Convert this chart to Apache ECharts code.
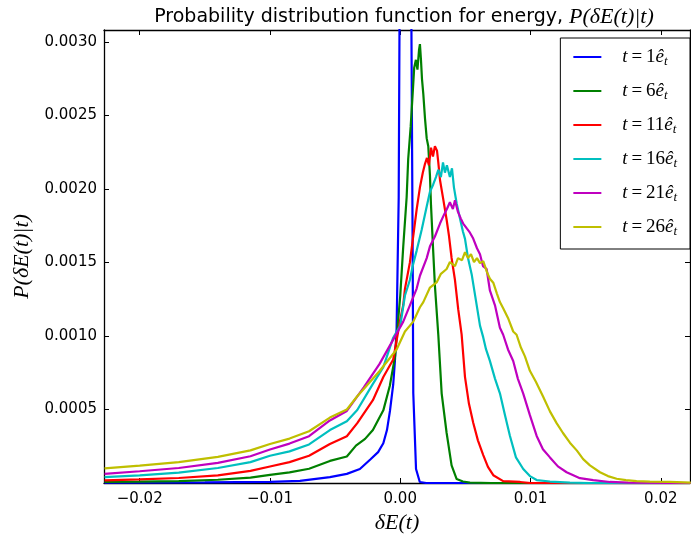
<!DOCTYPE html>
<html>
<head>
<meta charset="utf-8">
<script src="https://cdn.jsdelivr.net/npm/echarts@6/dist/echarts.min.js"></script>
<style>html,body{margin:0;padding:0;background:#fff}#c{width:691px;height:539px}</style>
</head>
<body>
<div id="c"></div>
<script>
const seriesNames = ['t=1', 't=6', 't=11', 't=16', 't=21', 't=26'];
const xTicks = [-0.02, -0.01, 0.00, 0.01, 0.02];
const yTicks = [0.0005, 0.0010, 0.0015, 0.0020, 0.0025, 0.0030];

const t1 = [[-0.0227,0.000002],[-0.0150,0.000004],[-0.0100,0.000008],[-0.0077,0.000014],[-0.0054,0.000040],[-0.0041,0.000062],[-0.0031,0.000095],[-0.0023,0.000160],[-0.0017,0.000210],[-0.0013,0.000270],[-0.00102,0.000360],[-0.00079,0.000490],[-0.00054,0.000670],[-0.00041,0.000830],[-0.00028,0.00105],[-0.00012,0.00194],[0.0,0.0042],[0.0002,0.0062],[0.0004,0.0072],[0.0006,0.0065],[0.0008,0.0040],[0.00095,0.00161],[0.0010,0.00061],[0.00121,0.000095],[0.0015,0.000007],[0.0020,0.0],[0.0223,0.0]];

const t6 = [[-0.0227,0.000007],[-0.0200,0.000009],[-0.0170,0.000013],[-0.0140,0.000022],[-0.0115,0.000037],[-0.0100,0.000055],[-0.0085,0.000072],[-0.0070,0.000097],[-0.0054,0.000150],[-0.0041,0.000180],[-0.0034,0.000254],[-0.0027,0.000300],[-0.0021,0.000361],[-0.0013,0.000494],[-0.0008,0.000661],[-0.0004,0.000861],[0.0,0.001275],[0.00023,0.001609],[0.00049,0.001943],[0.00061,0.002203],[0.00080,0.002423],[0.00095,0.002644],[0.00107,0.002824],[0.00120,0.002877],[0.00132,0.002811],[0.00144,0.002944],[0.00151,0.002984],[0.00159,0.002877],[0.00167,0.002744],[0.00177,0.002644],[0.00190,0.002477],[0.00203,0.002343],[0.00215,0.002290],[0.00228,0.002090],[0.00236,0.001889],[0.00251,0.001609],[0.00266,0.001342],[0.00292,0.001008],[0.00318,0.000608],[0.00356,0.000340],[0.00394,0.000120],[0.00433,0.000027],[0.00481,0.000010],[0.00535,0.000003],[0.0070,0.0],[0.0223,0.0]];

const t11 = [[-0.0227,0.000018],[-0.0200,0.000024],[-0.0170,0.000034],[-0.0140,0.000052],[-0.0115,0.000082],[-0.0100,0.000112],[-0.0085,0.000142],[-0.0070,0.000185],[-0.0054,0.000265],[-0.0041,0.000318],[-0.0033,0.000407],[-0.0021,0.000563],[-0.0013,0.000721],[-0.00054,0.00084],[0.0,0.00111],[0.00023,0.00121],[0.00036,0.00132],[0.00074,0.00150],[0.0010,0.00168],[0.00126,0.00186],[0.00151,0.00201],[0.00173,0.00211],[0.0019,0.00217],[0.00205,0.00221],[0.0022,0.00216],[0.00236,0.00228],[0.00251,0.00222],[0.00266,0.00229],[0.00282,0.00226],[0.00292,0.00218],[0.00305,0.00206],[0.00328,0.00194],[0.00356,0.00179],[0.00374,0.00168],[0.00394,0.00153],[0.0042,0.00138],[0.00445,0.00118],[0.00471,0.00101],[0.00497,0.00072],[0.00527,0.00054],[0.0056,0.00041],[0.00596,0.00029],[0.00637,0.00019],[0.00673,0.00011],[0.00714,0.000053],[0.0079,0.000013],[0.0092,0.000007],[0.0100,0.0],[0.0223,0.0]];

const t16 = [[-0.0227,0.000040],[-0.0200,0.000052],[-0.0170,0.000070],[-0.0140,0.000102],[-0.0115,0.000142],[-0.0100,0.000185],[-0.0085,0.000215],[-0.0070,0.000262],[-0.0054,0.000360],[-0.0041,0.00042],[-0.0033,0.000496],[-0.0021,0.000674],[-0.0013,0.000788],[-0.00054,0.000988],[0.0,0.00107],[0.00036,0.001275],[0.00074,0.00138],[0.00097,0.00148],[0.00126,0.00158],[0.00164,0.00172],[0.00203,0.00188],[0.00228,0.00198],[0.00253,0.00203],[0.00274,0.00208],[0.00292,0.00213],[0.00312,0.00208],[0.00328,0.00218],[0.00343,0.00211],[0.00358,0.00216],[0.00381,0.00208],[0.00397,0.00214],[0.00412,0.00201],[0.00433,0.0019],[0.00458,0.0018],[0.00481,0.00171],[0.00497,0.00166],[0.0052,0.00153],[0.00548,0.00142],[0.00581,0.00124],[0.00612,0.00107],[0.00637,0.00099],[0.00658,0.00091],[0.00688,0.00083],[0.00727,0.00071],[0.00765,0.00061],[0.00804,0.00046],[0.00842,0.00032],[0.00888,0.000174],[0.00944,0.000095],[0.00995,0.000047],[0.01047,0.00002],[0.01149,0.00001],[0.01302,0.000003],[0.0145,0.0],[0.0223,0.0]];

const t21 = [[-0.0227,0.000062],[-0.0200,0.000080],[-0.0170,0.000102],[-0.0140,0.000137],[-0.0115,0.000182],[-0.0100,0.000228],[-0.0085,0.000268],[-0.0070,0.000318],[-0.0054,0.000425],[-0.0041,0.000490],[-0.0028,0.00065],[-0.0016,0.000808],[-0.00054,0.000975],[0.00023,0.001097],[0.00074,0.001208],[0.00126,0.001322],[0.00151,0.001409],[0.00203,0.001529],[0.00228,0.001609],[0.00266,0.001676],[0.00305,0.001764],[0.00335,0.001823],[0.00358,0.001863],[0.00381,0.001909],[0.00404,0.001863],[0.0042,0.001923],[0.00443,0.001843],[0.00466,0.001796],[0.00483,0.001764],[0.00512,0.001729],[0.00535,0.001702],[0.0056,0.001662],[0.00589,0.001596],[0.00612,0.001556],[0.00635,0.001475],[0.00663,0.001455],[0.00688,0.001309],[0.00727,0.001208],[0.00765,0.001055],[0.0079,0.001008],[0.00827,0.000908],[0.00867,0.00083],[0.00903,0.000708],[0.00944,0.000608],[0.00995,0.000461],[0.01047,0.00032],[0.01095,0.00023],[0.01149,0.000174],[0.0121,0.000113],[0.01277,0.000073],[0.01379,0.000033],[0.01481,0.00002],[0.01609,0.000007],[0.0175,0.000002],[0.0223,0.0]];

const t26 = [[-0.0227,0.000100],[-0.0200,0.000118],[-0.0170,0.000142],[-0.0140,0.000178],[-0.0115,0.000222],[-0.0100,0.000265],[-0.0085,0.000302],[-0.0070,0.000352],[-0.0054,0.000445],[-0.0041,0.000500],[-0.0033,0.00059],[-0.0026,0.00066],[-0.0016,0.00076],[-0.00028,0.000908],[0.00036,0.00103],[0.0010,0.001097],[0.00151,0.001195],[0.00177,0.00123],[0.00228,0.001329],[0.00279,0.001364],[0.00312,0.001422],[0.00356,0.001455],[0.00381,0.001502],[0.0042,0.001475],[0.00443,0.001529],[0.00474,0.001515],[0.00497,0.001569],[0.0052,0.001529],[0.00543,0.001556],[0.00566,0.001502],[0.00589,0.001529],[0.00612,0.001495],[0.00637,0.001509],[0.00665,0.001435],[0.00688,0.001389],[0.00714,0.001362],[0.00742,0.001288],[0.00765,0.00123],[0.0079,0.001188],[0.00827,0.001122],[0.00867,0.00103],[0.00893,0.001008],[0.00926,0.000921],[0.00957,0.000861],[0.00995,0.000763],[0.01041,0.000688],[0.01097,0.000587],[0.01149,0.000487],[0.012,0.000407],[0.01249,0.00034],[0.01302,0.000274],[0.01356,0.00022],[0.01404,0.000162],[0.01456,0.00012],[0.01533,0.000073],[0.01594,0.000047],[0.01661,0.000029],[0.01732,0.00002],[0.01814,0.000013],[0.01916,0.00001],[0.0207,0.000007],[0.0223,0.000003]];

const allData = [t1, t6, t11, t16, t21, t26];
const colors = ['#0000ff', '#008000', '#ff0000', '#00bfbf', '#bf00bf', '#bfbf00'];

const X_MIN = -0.02274, X_MAX = 0.02224, Y_MIN = 0, Y_MAX = 0.00308;

const chart = echarts.init(document.getElementById('c'), null, {renderer: 'canvas'});
const fmtX = v => (v < 0 ? '\u2212' : '') + Math.abs(v).toFixed(2);
const fmtY = v => v.toFixed(4);
const tickStyle = {show: true, inside: true, length: 5, lineStyle: {color: '#000', width: 1}};
const lineStyleAxis = {show: true, onZero: false, lineStyle: {color: '#000', width: 1.3}};
const mathRich = {
  i: {fontFamily: 'Liberation Serif', fontStyle: 'italic', fontSize: 19, color: '#000'},
  n: {fontFamily: 'Liberation Serif', fontSize: 19, color: '#000'},
  s: {fontFamily: 'Liberation Serif', fontStyle: 'italic', fontSize: 13, color: '#000', verticalAlign: 'bottom', padding: [9, 0, 0, 0]}
};

chart.setOption({
  animation: false,
  backgroundColor: '#fff',
  title: {
    text: '{a|Probability distribution function for energy, }{m|P(δE(t)|t)}',
    left: 399, top: 1, textAlign: 'center',
    textStyle: {fontWeight: 'normal', rich: {
      a: {fontFamily: 'DejaVu Sans', fontSize: 19, fontWeight: 'normal', color: '#000'},
      m: {fontFamily: 'Liberation Serif', fontStyle: 'italic', fontWeight: 'normal', fontSize: 22, color: '#000'}
    }}
  },
  grid: {left: 104, right: 1, top: 30, bottom: 48, containLabel: false},
  legend: {
    orient: 'vertical', right: 1, top: 38,
    backgroundColor: '#fff', borderColor: '#000', borderWidth: 1, borderRadius: 0,
    padding: [8, 13, 11, 13], itemGap: 12, itemWidth: 28, itemHeight: 2,
    icon: 'rect',
    data: seriesNames,
    formatter: name => '{i|t}{n|\u2009=\u2009' + name.slice(2) + '}{i|ê}{s|t}',
    textStyle: {padding: [0, 0, 0, 16], lineHeight: 22, rich: mathRich}
  },
  xAxis: [{
    type: 'value', min: X_MIN, max: X_MAX, position: 'bottom',
    axisLine: lineStyleAxis, splitLine: {show: false},
    axisTick: Object.assign({customValues: xTicks}, tickStyle),
    axisLabel: {customValues: xTicks, formatter: fmtX, fontFamily: 'DejaVu Sans', fontSize: 15, color: '#000', margin: 9},
    name: '{i|δE(t)}', nameLocation: 'middle', nameGap: 29,
    nameTextStyle: {rich: {i: {fontFamily: 'Liberation Serif', fontStyle: 'italic', fontSize: 22, color: '#000'}}}
  }, {
    type: 'value', min: X_MIN, max: X_MAX, position: 'top',
    axisLine: lineStyleAxis, splitLine: {show: false},
    axisTick: Object.assign({customValues: xTicks}, tickStyle),
    axisLabel: {show: false}
  }],
  yAxis: [{
    type: 'value', min: Y_MIN, max: Y_MAX, position: 'left',
    axisLine: lineStyleAxis, splitLine: {show: false},
    axisTick: Object.assign({customValues: yTicks}, tickStyle),
    axisLabel: {customValues: yTicks, formatter: fmtY, fontFamily: 'DejaVu Sans', fontSize: 15, color: '#000', margin: 7},
    name: '{i|P(δE(t)|t)}', nameLocation: 'middle', nameGap: 71, nameRotate: 90,
    nameTextStyle: {rich: {i: {fontFamily: 'Liberation Serif', fontStyle: 'italic', fontSize: 22, color: '#000'}}}
  }, {
    type: 'value', min: Y_MIN, max: Y_MAX, position: 'right',
    axisLine: lineStyleAxis, splitLine: {show: false},
    axisTick: Object.assign({customValues: yTicks}, tickStyle),
    axisLabel: {show: false}
  }],
  series: allData.map((d, k) => ({
    name: seriesNames[k], type: 'line', data: d, xAxisIndex: 0, yAxisIndex: 0,
    showSymbol: false, symbol: 'none', clip: true, smooth: false,
    lineStyle: {color: colors[k], width: 2.2},
    itemStyle: {color: colors[k]}
  }))
});
</script>
</body>
</html>
